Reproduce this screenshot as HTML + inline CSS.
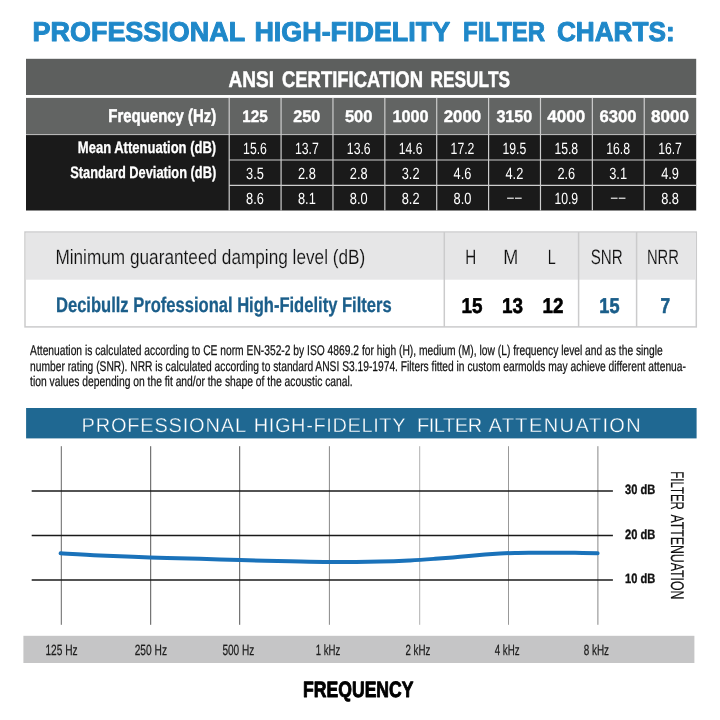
<!DOCTYPE html>
<html><head><meta charset="utf-8"><title>Professional High-Fidelity Filter Charts</title>
<style>
html,body{margin:0;padding:0;background:#fff;}
body{width:720px;height:720px;overflow:hidden;}
svg{display:block;font-family:"Liberation Sans", sans-serif;will-change:transform;text-rendering:geometricPrecision;}
text{font-family:"Liberation Sans", sans-serif;}
</style></head>
<body>
<svg width="720" height="720" viewBox="0 0 720 720">
<text x="32.6" y="40.7" font-size="27.3" font-weight="bold" fill="#1f88c9" text-anchor="start" textLength="212.5" lengthAdjust="spacingAndGlyphs" stroke="#1f88c9" stroke-width="1.0" stroke-linejoin="round">PROFESSIONAL</text>
<text x="254.45" y="40.7" font-size="27.3" font-weight="bold" fill="#1f88c9" text-anchor="start" textLength="195.65" lengthAdjust="spacingAndGlyphs" stroke="#1f88c9" stroke-width="1.0" stroke-linejoin="round">HIGH-FIDELITY</text>
<text x="463.0" y="40.7" font-size="27.3" font-weight="bold" fill="#1f88c9" text-anchor="start" textLength="82.1" lengthAdjust="spacingAndGlyphs" stroke="#1f88c9" stroke-width="1.0" stroke-linejoin="round">FILTER</text>
<text x="556.9" y="40.7" font-size="27.3" font-weight="bold" fill="#1f88c9" text-anchor="start" textLength="117.75" lengthAdjust="spacingAndGlyphs" stroke="#1f88c9" stroke-width="1.0" stroke-linejoin="round">CHARTS:</text>
<rect x="26" y="58.8" width="670.2" height="36.2" fill="#5d5f5e"/>
<rect x="26" y="97.9" width="670.2" height="36.4" fill="#626463"/>
<rect x="26" y="134.2" width="670.2" height="76.3" fill="#1a1a1a"/>
<line x1="26" y1="134.6" x2="696.2" y2="134.6" stroke="#c4c4c4" stroke-width="1.0"/>
<text x="228.5" y="87.3" font-size="22.7" font-weight="bold" fill="#fff" text-anchor="start" textLength="45.5" lengthAdjust="spacingAndGlyphs" stroke="#fff" stroke-width="0.5" stroke-linejoin="round">ANSI</text>
<text x="282" y="87.3" font-size="22.7" font-weight="bold" fill="#fff" text-anchor="start" textLength="141" lengthAdjust="spacingAndGlyphs" stroke="#fff" stroke-width="0.5" stroke-linejoin="round">CERTIFICATION</text>
<text x="430.5" y="87.3" font-size="22.7" font-weight="bold" fill="#fff" text-anchor="start" textLength="79.5" lengthAdjust="spacingAndGlyphs" stroke="#fff" stroke-width="0.5" stroke-linejoin="round">RESULTS</text>
<text x="216.3" y="122.2" font-size="18.5" font-weight="bold" fill="#fff" text-anchor="end" textLength="108" lengthAdjust="spacingAndGlyphs" stroke="#fff" stroke-width="0.5" stroke-linejoin="round">Frequency (Hz)</text>
<text x="216.2" y="153.2" font-size="16.6" font-weight="bold" fill="#fff" text-anchor="end" textLength="138.4" lengthAdjust="spacingAndGlyphs" stroke="#fff" stroke-width="0.3" stroke-linejoin="round">Mean Attenuation (dB)</text>
<text x="216.2" y="178.2" font-size="16.6" font-weight="bold" fill="#fff" text-anchor="end" textLength="146" lengthAdjust="spacingAndGlyphs" stroke="#fff" stroke-width="0.3" stroke-linejoin="round">Standard Deviation (dB)</text>
<line x1="229.2" y1="97.9" x2="229.2" y2="210.5" stroke="#cdcdcd" stroke-width="1.2"/>
<line x1="281.08" y1="97.9" x2="281.08" y2="210.5" stroke="#cdcdcd" stroke-width="1.2"/>
<line x1="332.96" y1="97.9" x2="332.96" y2="210.5" stroke="#cdcdcd" stroke-width="1.2"/>
<line x1="384.84000000000003" y1="97.9" x2="384.84000000000003" y2="210.5" stroke="#cdcdcd" stroke-width="1.2"/>
<line x1="436.72" y1="97.9" x2="436.72" y2="210.5" stroke="#cdcdcd" stroke-width="1.2"/>
<line x1="488.6" y1="97.9" x2="488.6" y2="210.5" stroke="#cdcdcd" stroke-width="1.2"/>
<line x1="540.48" y1="97.9" x2="540.48" y2="210.5" stroke="#cdcdcd" stroke-width="1.2"/>
<line x1="592.36" y1="97.9" x2="592.36" y2="210.5" stroke="#cdcdcd" stroke-width="1.2"/>
<line x1="644.24" y1="97.9" x2="644.24" y2="210.5" stroke="#cdcdcd" stroke-width="1.2"/>
<line x1="229.2" y1="160.0" x2="696.2" y2="160.0" stroke="#cdcdcd" stroke-width="1.2"/>
<line x1="229.2" y1="185.4" x2="696.2" y2="185.4" stroke="#cdcdcd" stroke-width="1.2"/>
<text x="254.89999999999998" y="122.3" font-size="16.8" font-weight="bold" fill="#fff" text-anchor="middle" textLength="25.5" lengthAdjust="spacingAndGlyphs" stroke="#fff" stroke-width="0.4" stroke-linejoin="round">125</text>
<text x="306.78" y="122.3" font-size="16.8" font-weight="bold" fill="#fff" text-anchor="middle" textLength="27" lengthAdjust="spacingAndGlyphs" stroke="#fff" stroke-width="0.4" stroke-linejoin="round">250</text>
<text x="358.65999999999997" y="122.3" font-size="16.8" font-weight="bold" fill="#fff" text-anchor="middle" textLength="27.5" lengthAdjust="spacingAndGlyphs" stroke="#fff" stroke-width="0.4" stroke-linejoin="round">500</text>
<text x="410.54" y="122.3" font-size="16.8" font-weight="bold" fill="#fff" text-anchor="middle" textLength="36.3" lengthAdjust="spacingAndGlyphs" stroke="#fff" stroke-width="0.4" stroke-linejoin="round">1000</text>
<text x="462.42" y="122.3" font-size="16.8" font-weight="bold" fill="#fff" text-anchor="middle" textLength="37.5" lengthAdjust="spacingAndGlyphs" stroke="#fff" stroke-width="0.4" stroke-linejoin="round">2000</text>
<text x="514.3000000000001" y="122.3" font-size="16.8" font-weight="bold" fill="#fff" text-anchor="middle" textLength="35.8" lengthAdjust="spacingAndGlyphs" stroke="#fff" stroke-width="0.4" stroke-linejoin="round">3150</text>
<text x="566.1800000000001" y="122.3" font-size="16.8" font-weight="bold" fill="#fff" text-anchor="middle" textLength="38" lengthAdjust="spacingAndGlyphs" stroke="#fff" stroke-width="0.4" stroke-linejoin="round">4000</text>
<text x="618.0600000000001" y="122.3" font-size="16.8" font-weight="bold" fill="#fff" text-anchor="middle" textLength="37" lengthAdjust="spacingAndGlyphs" stroke="#fff" stroke-width="0.4" stroke-linejoin="round">6300</text>
<text x="669.94" y="122.3" font-size="16.8" font-weight="bold" fill="#fff" text-anchor="middle" textLength="38" lengthAdjust="spacingAndGlyphs" stroke="#fff" stroke-width="0.4" stroke-linejoin="round">8000</text>
<text x="255.0" y="153.5" font-size="16.3" font-weight="normal" fill="#fff" text-anchor="middle" textLength="23.8" lengthAdjust="spacingAndGlyphs">15.6</text>
<text x="306.88" y="153.5" font-size="16.3" font-weight="normal" fill="#fff" text-anchor="middle" textLength="23.8" lengthAdjust="spacingAndGlyphs">13.7</text>
<text x="358.76" y="153.5" font-size="16.3" font-weight="normal" fill="#fff" text-anchor="middle" textLength="23.8" lengthAdjust="spacingAndGlyphs">13.6</text>
<text x="410.64000000000004" y="153.5" font-size="16.3" font-weight="normal" fill="#fff" text-anchor="middle" textLength="23.8" lengthAdjust="spacingAndGlyphs">14.6</text>
<text x="462.52000000000004" y="153.5" font-size="16.3" font-weight="normal" fill="#fff" text-anchor="middle" textLength="23.8" lengthAdjust="spacingAndGlyphs">17.2</text>
<text x="514.4" y="153.5" font-size="16.3" font-weight="normal" fill="#fff" text-anchor="middle" textLength="23.8" lengthAdjust="spacingAndGlyphs">19.5</text>
<text x="566.28" y="153.5" font-size="16.3" font-weight="normal" fill="#fff" text-anchor="middle" textLength="23.8" lengthAdjust="spacingAndGlyphs">15.8</text>
<text x="618.16" y="153.5" font-size="16.3" font-weight="normal" fill="#fff" text-anchor="middle" textLength="23.8" lengthAdjust="spacingAndGlyphs">16.8</text>
<text x="670.04" y="153.5" font-size="16.3" font-weight="normal" fill="#fff" text-anchor="middle" textLength="23.8" lengthAdjust="spacingAndGlyphs">16.7</text>
<text x="255.0" y="178.5" font-size="16.3" font-weight="normal" fill="#fff" text-anchor="middle" textLength="17.8" lengthAdjust="spacingAndGlyphs">3.5</text>
<text x="306.88" y="178.5" font-size="16.3" font-weight="normal" fill="#fff" text-anchor="middle" textLength="17.8" lengthAdjust="spacingAndGlyphs">2.8</text>
<text x="358.76" y="178.5" font-size="16.3" font-weight="normal" fill="#fff" text-anchor="middle" textLength="17.8" lengthAdjust="spacingAndGlyphs">2.8</text>
<text x="410.64000000000004" y="178.5" font-size="16.3" font-weight="normal" fill="#fff" text-anchor="middle" textLength="17.8" lengthAdjust="spacingAndGlyphs">3.2</text>
<text x="462.52000000000004" y="178.5" font-size="16.3" font-weight="normal" fill="#fff" text-anchor="middle" textLength="17.8" lengthAdjust="spacingAndGlyphs">4.6</text>
<text x="514.4" y="178.5" font-size="16.3" font-weight="normal" fill="#fff" text-anchor="middle" textLength="17.8" lengthAdjust="spacingAndGlyphs">4.2</text>
<text x="566.28" y="178.5" font-size="16.3" font-weight="normal" fill="#fff" text-anchor="middle" textLength="17.8" lengthAdjust="spacingAndGlyphs">2.6</text>
<text x="618.16" y="178.5" font-size="16.3" font-weight="normal" fill="#fff" text-anchor="middle" textLength="17.8" lengthAdjust="spacingAndGlyphs">3.1</text>
<text x="670.04" y="178.5" font-size="16.3" font-weight="normal" fill="#fff" text-anchor="middle" textLength="17.8" lengthAdjust="spacingAndGlyphs">4.9</text>
<text x="255.0" y="203.8" font-size="16.3" font-weight="normal" fill="#fff" text-anchor="middle" textLength="17.8" lengthAdjust="spacingAndGlyphs">8.6</text>
<text x="306.88" y="203.8" font-size="16.3" font-weight="normal" fill="#fff" text-anchor="middle" textLength="17.8" lengthAdjust="spacingAndGlyphs">8.1</text>
<text x="358.76" y="203.8" font-size="16.3" font-weight="normal" fill="#fff" text-anchor="middle" textLength="17.8" lengthAdjust="spacingAndGlyphs">8.0</text>
<text x="410.64000000000004" y="203.8" font-size="16.3" font-weight="normal" fill="#fff" text-anchor="middle" textLength="17.8" lengthAdjust="spacingAndGlyphs">8.2</text>
<text x="462.52000000000004" y="203.8" font-size="16.3" font-weight="normal" fill="#fff" text-anchor="middle" textLength="17.8" lengthAdjust="spacingAndGlyphs">8.0</text>
<line x1="507.09999999999997" y1="198.2" x2="513.8" y2="198.2" stroke="#fff" stroke-width="1.1"/>
<line x1="515.0" y1="198.2" x2="521.6999999999999" y2="198.2" stroke="#fff" stroke-width="1.1"/>
<text x="566.28" y="203.8" font-size="16.3" font-weight="normal" fill="#fff" text-anchor="middle" textLength="23.8" lengthAdjust="spacingAndGlyphs">10.9</text>
<line x1="610.86" y1="198.2" x2="617.56" y2="198.2" stroke="#fff" stroke-width="1.1"/>
<line x1="618.76" y1="198.2" x2="625.4599999999999" y2="198.2" stroke="#fff" stroke-width="1.1"/>
<text x="670.04" y="203.8" font-size="16.3" font-weight="normal" fill="#fff" text-anchor="middle" textLength="17.8" lengthAdjust="spacingAndGlyphs">8.8</text>
<rect x="25.0" y="232.05" width="671.3" height="94.85" fill="#fff" stroke="#cbcbcc" stroke-width="1.5"/>
<rect x="25.75" y="232.8" width="669.8" height="46.9" fill="#e6e6e7"/>
<line x1="444.3" y1="232" x2="444.3" y2="327" stroke="#cbcbcc" stroke-width="1.5"/>
<line x1="578.6" y1="232" x2="578.6" y2="327" stroke="#cbcbcc" stroke-width="1.5"/>
<line x1="636.6" y1="232" x2="636.6" y2="327" stroke="#cbcbcc" stroke-width="1.5"/>
<text x="55.4" y="264.3" font-size="20.8" font-weight="normal" fill="#111" text-anchor="start" textLength="309.9" lengthAdjust="spacingAndGlyphs" stroke="#e6e6e7" stroke-width="0.15">Minimum guaranteed damping level (dB)</text>
<text x="56.0" y="312.4" font-size="21.2" font-weight="bold" fill="#1b5e8a" text-anchor="start" textLength="335.6" lengthAdjust="spacingAndGlyphs" stroke="#1b5e8a" stroke-width="0.3" stroke-linejoin="round">Decibullz Professional High-Fidelity Filters</text>
<text x="470.8" y="264.3" font-size="20.8" font-weight="normal" fill="#111" text-anchor="middle" textLength="11" lengthAdjust="spacingAndGlyphs" stroke="#e6e6e7" stroke-width="0.15">H</text>
<text x="510.8" y="264.3" font-size="20.8" font-weight="normal" fill="#111" text-anchor="middle" textLength="15" lengthAdjust="spacingAndGlyphs" stroke="#e6e6e7" stroke-width="0.15">M</text>
<text x="551.7" y="264.3" font-size="20.8" font-weight="normal" fill="#111" text-anchor="middle" textLength="8" lengthAdjust="spacingAndGlyphs" stroke="#e6e6e7" stroke-width="0.15">L</text>
<text x="606.7" y="264.3" font-size="20.8" font-weight="normal" fill="#111" text-anchor="middle" textLength="32" lengthAdjust="spacingAndGlyphs" stroke="#e6e6e7" stroke-width="0.15">SNR</text>
<text x="662.9" y="264.3" font-size="20.8" font-weight="normal" fill="#111" text-anchor="middle" textLength="32" lengthAdjust="spacingAndGlyphs" stroke="#e6e6e7" stroke-width="0.15">NRR</text>
<text x="472.1" y="312.7" font-size="21.3" font-weight="bold" fill="#000" text-anchor="middle" textLength="21" lengthAdjust="spacingAndGlyphs" stroke="#000" stroke-width="0.6" stroke-linejoin="round">15</text>
<text x="512.6" y="312.7" font-size="21.3" font-weight="bold" fill="#000" text-anchor="middle" textLength="21" lengthAdjust="spacingAndGlyphs" stroke="#000" stroke-width="0.6" stroke-linejoin="round">13</text>
<text x="553.1" y="312.7" font-size="21.3" font-weight="bold" fill="#000" text-anchor="middle" textLength="21" lengthAdjust="spacingAndGlyphs" stroke="#000" stroke-width="0.6" stroke-linejoin="round">12</text>
<text x="609.4" y="312.7" font-size="21.3" font-weight="bold" fill="#1b5e8a" text-anchor="middle" textLength="20.2" lengthAdjust="spacingAndGlyphs" stroke="#1b5e8a" stroke-width="0.6" stroke-linejoin="round">15</text>
<text x="665.4" y="312.7" font-size="21.3" font-weight="bold" fill="#1b5e8a" text-anchor="middle" textLength="9.6" lengthAdjust="spacingAndGlyphs" stroke="#1b5e8a" stroke-width="0.6" stroke-linejoin="round">7</text>
<text x="30.1" y="355.2" font-size="14.1" font-weight="normal" fill="#111" text-anchor="start" textLength="632.7" lengthAdjust="spacingAndGlyphs" stroke="#111" stroke-width="0.25" stroke-linejoin="round">Attenuation is calculated according to CE norm EN-352-2 by ISO 4869.2 for high (H), medium (M), low (L) frequency level and as the single</text>
<text x="30.1" y="370.5" font-size="14.1" font-weight="normal" fill="#111" text-anchor="start" textLength="655.8" lengthAdjust="spacingAndGlyphs" stroke="#111" stroke-width="0.25" stroke-linejoin="round">number rating (SNR). NRR is calculated according to standard ANSI S3.19-1974. Filters fitted in custom earmolds may achieve different attenua-</text>
<text x="30.1" y="385.8" font-size="14.1" font-weight="normal" fill="#111" text-anchor="start" textLength="322.6" lengthAdjust="spacingAndGlyphs" stroke="#111" stroke-width="0.25" stroke-linejoin="round">tion values depending on the fit and/or the shape of the acoustic canal.</text>
<rect x="26.1" y="408" width="670.5" height="30.4" fill="#1f6892"/>
<text x="81.5" y="431.8" font-size="20" font-weight="normal" fill="#fff" text-anchor="start" textLength="164.5" lengthAdjust="spacing" stroke="#1f6892" stroke-width="0.35">PROFESSIONAL</text>
<text x="253.7" y="431.8" font-size="20" font-weight="normal" fill="#fff" text-anchor="start" textLength="151.8" lengthAdjust="spacing" stroke="#1f6892" stroke-width="0.35">HIGH-FIDELITY</text>
<text x="417.0" y="431.8" font-size="20" font-weight="normal" fill="#fff" text-anchor="start" textLength="65.1" lengthAdjust="spacing" stroke="#1f6892" stroke-width="0.35">FILTER</text>
<text x="488.4" y="431.8" font-size="20" font-weight="normal" fill="#fff" text-anchor="start" textLength="152.4" lengthAdjust="spacing" stroke="#1f6892" stroke-width="0.35">ATTENUATION</text>
<line x1="61.3" y1="446.2" x2="61.3" y2="624.8" stroke="#666" stroke-width="1.0"/>
<line x1="150.7" y1="446.2" x2="150.7" y2="624.8" stroke="#555" stroke-width="1.0"/>
<line x1="239.7" y1="446.2" x2="239.7" y2="624.8" stroke="#555" stroke-width="1.0"/>
<line x1="329.4" y1="446.2" x2="329.4" y2="624.8" stroke="#888" stroke-width="1.0"/>
<line x1="419.7" y1="446.2" x2="419.7" y2="624.8" stroke="#b0b0b0" stroke-width="1.0"/>
<line x1="508.5" y1="446.2" x2="508.5" y2="624.8" stroke="#999" stroke-width="1.0"/>
<line x1="597.9" y1="446.2" x2="597.9" y2="624.8" stroke="#888" stroke-width="1.0"/>
<line x1="31.7" y1="490.9" x2="612.9" y2="490.9" stroke="#1a1a1a" stroke-width="1.5"/>
<line x1="31.7" y1="535.4" x2="612.9" y2="535.4" stroke="#1a1a1a" stroke-width="1.5"/>
<line x1="31.7" y1="580.1" x2="612.9" y2="580.1" stroke="#1a1a1a" stroke-width="1.5"/>
<path d="M60.6,553.3 C67.17,553.67 85.10,554.82 100,555.5 C114.90,556.18 133.33,556.85 150,557.4 C166.67,557.95 185.00,558.35 200,558.8 C215.00,559.25 225.00,559.68 240,560.1 C255.00,560.52 275.00,560.98 290,561.3 C305.00,561.62 315.00,561.97 330,562 C345.00,562.03 366.67,561.77 380,561.5 C393.33,561.23 400.83,560.85 410,560.4 C419.17,559.95 426.67,559.40 435,558.8 C443.33,558.20 451.67,557.52 460,556.8 C468.33,556.08 478.33,555.05 485,554.5 C491.67,553.95 495.00,553.76 500,553.5 C505.00,553.24 510.00,553.08 515,552.95 C520.00,552.83 524.17,552.80 530,552.75 C535.83,552.70 542.50,552.63 550,552.65 C557.50,552.67 567.07,552.76 575,552.85 C582.93,552.94 593.83,553.14 597.6,553.2" fill="none" stroke="#1a72ba" stroke-width="4" stroke-linecap="round" stroke-linejoin="round"/>
<text x="625" y="494" font-size="13.6" font-weight="bold" fill="#111" text-anchor="start" textLength="30.2" lengthAdjust="spacingAndGlyphs" stroke="#111" stroke-width="0.35" stroke-linejoin="round">30 dB</text>
<text x="625" y="538.7" font-size="13.6" font-weight="bold" fill="#111" text-anchor="start" textLength="30.2" lengthAdjust="spacingAndGlyphs" stroke="#111" stroke-width="0.35" stroke-linejoin="round">20 dB</text>
<text x="625" y="583.3" font-size="13.6" font-weight="bold" fill="#111" text-anchor="start" textLength="30.2" lengthAdjust="spacingAndGlyphs" stroke="#111" stroke-width="0.35" stroke-linejoin="round">10 dB</text>
<g transform="translate(670.8,472.4) rotate(90)">
<text x="-1.2" y="0" font-size="18.4" font-weight="normal" fill="#111" text-anchor="start" textLength="38.7" lengthAdjust="spacingAndGlyphs" stroke="#111" stroke-width="0.2" stroke-linejoin="round">FILTER</text>
<text x="42.0" y="0" font-size="18.4" font-weight="normal" fill="#111" text-anchor="start" textLength="85" lengthAdjust="spacingAndGlyphs" stroke="#111" stroke-width="0.2" stroke-linejoin="round">ATTENUATION</text>
</g>
<rect x="23.4" y="635.8" width="671" height="27.2" fill="#c5c5c6"/>
<text x="45.400000000000006" y="654.5" font-size="14.8" font-weight="normal" fill="#1c1c1c" text-anchor="start" textLength="32.2" lengthAdjust="spacingAndGlyphs" stroke="#1c1c1c" stroke-width="0.25" stroke-linejoin="round">125 Hz</text>
<text x="134.7" y="654.5" font-size="14.8" font-weight="normal" fill="#1c1c1c" text-anchor="start" textLength="32.3" lengthAdjust="spacingAndGlyphs" stroke="#1c1c1c" stroke-width="0.25" stroke-linejoin="round">250 Hz</text>
<text x="222.39999999999998" y="654.5" font-size="14.8" font-weight="normal" fill="#1c1c1c" text-anchor="start" textLength="31.9" lengthAdjust="spacingAndGlyphs" stroke="#1c1c1c" stroke-width="0.25" stroke-linejoin="round">500 Hz</text>
<text x="315.7" y="654.5" font-size="14.8" font-weight="normal" fill="#1c1c1c" text-anchor="start" textLength="24.6" lengthAdjust="spacingAndGlyphs" stroke="#1c1c1c" stroke-width="0.25" stroke-linejoin="round">1 kHz</text>
<text x="405.4" y="654.5" font-size="14.8" font-weight="normal" fill="#1c1c1c" text-anchor="start" textLength="24.9" lengthAdjust="spacingAndGlyphs" stroke="#1c1c1c" stroke-width="0.25" stroke-linejoin="round">2 kHz</text>
<text x="494.7" y="654.5" font-size="14.8" font-weight="normal" fill="#1c1c1c" text-anchor="start" textLength="24.9" lengthAdjust="spacingAndGlyphs" stroke="#1c1c1c" stroke-width="0.25" stroke-linejoin="round">4 kHz</text>
<text x="583.7" y="654.5" font-size="14.8" font-weight="normal" fill="#1c1c1c" text-anchor="start" textLength="25.3" lengthAdjust="spacingAndGlyphs" stroke="#1c1c1c" stroke-width="0.25" stroke-linejoin="round">8 kHz</text>
<text x="303.1" y="697.0" font-size="22.2" font-weight="bold" fill="#000" text-anchor="start" textLength="110.4" lengthAdjust="spacingAndGlyphs" stroke="#000" stroke-width="0.9" stroke-linejoin="round">FREQUENCY</text>
</svg>
</body></html>
